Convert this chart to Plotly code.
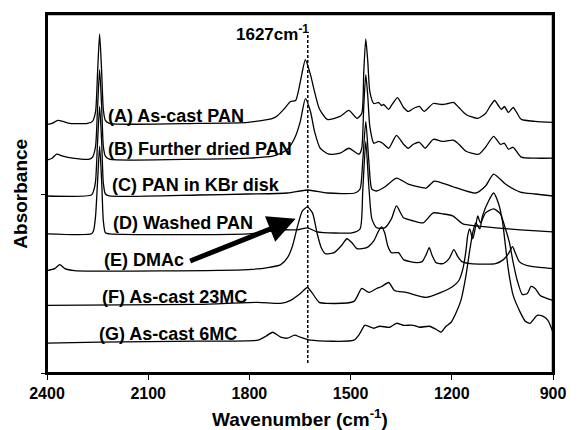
import plotly.graph_objects as go

# ---------------- data ----------------
wn_A = [2400, 2385, 2368, 2353, 2332, 2280, 2265, 2256, 2250, 2244, 2238, 2233, 2227, 2215,
        1951, 1804, 1731, 1716, 1696, 1678, 1663, 1649, 1634, 1619, 1607, 1593, 1569, 1531,
        1505, 1481, 1467, 1461, 1455, 1449, 1443, 1431, 1417, 1408, 1402, 1387, 1379, 1361,
        1343, 1329, 1314, 1296, 1282, 1255, 1229, 1211, 1194, 1179, 1158, 1123, 1100, 1085,
        1073, 1062, 1053, 1044, 1032, 1018, 1006, 994, 953, 900]
ab_A = [2.50, 2.51, 2.54, 2.53, 2.51, 2.51, 2.53, 2.63, 3.03, 3.41, 3.03, 2.65, 2.54, 2.51,
        2.51, 2.52, 2.56, 2.59, 2.66, 2.73, 2.74, 2.93, 3.15, 3.00, 2.83, 2.66, 2.55, 2.58,
        2.64, 2.56, 2.61, 3.03, 3.36, 3.13, 2.83, 2.71, 2.72, 2.69, 2.70, 2.65, 2.69, 2.77,
        2.67, 2.63, 2.66, 2.68, 2.63, 2.71, 2.70, 2.71, 2.72, 2.67, 2.60, 2.56, 2.61, 2.69,
        2.74, 2.69, 2.65, 2.68, 2.62, 2.67, 2.61, 2.55, 2.53, 2.52]

wn_B = [2400, 2385, 2371, 2353, 2324, 2274, 2265, 2256, 2250, 2244, 2238, 2233, 2227, 2215,
        1951, 1804, 1731, 1707, 1687, 1666, 1649, 1634, 1619, 1607, 1590, 1564, 1531, 1505,
        1475, 1467, 1461, 1455, 1449, 1443, 1431, 1417, 1405, 1387, 1364, 1343, 1329, 1314,
        1296, 1279, 1255, 1229, 1194, 1179, 1158, 1120, 1100, 1076, 1056, 1044, 1032, 1018,
        994, 953, 900]
ab_B = [2.14, 2.16, 2.20, 2.18, 2.16, 2.15, 2.17, 2.28, 2.68, 3.05, 2.68, 2.28, 2.18, 2.15,
        2.15, 2.16, 2.18, 2.21, 2.25, 2.36, 2.53, 2.76, 2.63, 2.43, 2.26, 2.20, 2.21, 2.26,
        2.20, 2.26, 2.68, 3.00, 2.78, 2.48, 2.31, 2.33, 2.31, 2.26, 2.39, 2.30, 2.26, 2.30,
        2.32, 2.26, 2.35, 2.33, 2.34, 2.30, 2.23, 2.20, 2.27, 2.38, 2.30, 2.31, 2.25, 2.27,
        2.17, 2.16, 2.16]

wn_C = [2400, 2268, 2262, 2256, 2250, 2244, 2238, 2233, 2227, 2215, 1951, 1804, 1687, 1628,
        1569, 1487, 1472, 1464, 1455, 1446, 1437, 1423, 1399, 1364, 1329, 1276, 1252, 1202,
        1129, 1100, 1076, 1041, 997, 953, 900]
ab_C = [1.78, 1.79, 1.83, 1.93, 2.33, 2.68, 2.33, 1.91, 1.80, 1.78, 1.79, 1.80, 1.81, 1.84,
        1.81, 1.81, 1.85, 2.13, 2.53, 2.13, 1.85, 1.83, 1.87, 1.96, 1.90, 1.86, 1.93, 1.88,
        1.81, 1.88, 2.00, 1.90, 1.82, 1.80, 1.78]

wn_D = [2400, 2268, 2262, 2256, 2250, 2244, 2238, 2233, 2227, 2215, 1804, 1701, 1657, 1628,
        1599, 1496, 1472, 1464, 1455, 1446, 1437, 1423, 1399, 1379, 1364, 1343, 1314, 1285,
        1255, 1226, 1197, 1167, 1129, 1070, 997, 900]
ab_D = [1.40, 1.40, 1.43, 1.58, 1.93, 2.28, 1.93, 1.53, 1.41, 1.40, 1.40, 1.44, 1.44, 1.46,
        1.42, 1.41, 1.45, 1.83, 2.33, 1.88, 1.55, 1.46, 1.46, 1.55, 1.68, 1.56, 1.53, 1.51,
        1.61, 1.60, 1.58, 1.50, 1.48, 1.46, 1.44, 1.42]

wn_E = [2400, 2377, 2362, 2347, 2318, 1804, 1745, 1707, 1687, 1672, 1657, 1643, 1628, 1613,
        1599, 1587, 1575, 1549, 1525, 1511, 1496, 1481, 1452, 1431, 1417, 1408, 1399, 1390,
        1379, 1358, 1343, 1305, 1288, 1276, 1267, 1258, 1247, 1226, 1208, 1194, 1182, 1170,
        1144, 1070, 1047, 1032, 1020, 1012, 1000, 976, 900]
ab_E = [1.03, 1.05, 1.09, 1.05, 1.03, 1.04, 1.06, 1.09, 1.16, 1.28, 1.48, 1.63, 1.67, 1.61,
        1.40, 1.26, 1.20, 1.21, 1.29, 1.35, 1.31, 1.25, 1.26, 1.33, 1.43, 1.47, 1.41, 1.28,
        1.21, 1.21, 1.14, 1.11, 1.12, 1.19, 1.26, 1.18, 1.11, 1.10, 1.15, 1.24, 1.17, 1.12,
        1.10, 1.10, 1.14, 1.20, 1.27, 1.21, 1.12, 1.08, 1.05]

wn_F = [2400, 1951, 1775, 1707, 1678, 1649, 1628, 1613, 1593, 1569, 1490, 1467, 1446, 1423,
        1408, 1387, 1370, 1335, 1276, 1232, 1197, 1179, 1167, 1158, 1153, 1147, 1138, 1129,
        1123, 1115, 1100, 1076, 1056, 1041, 1029, 1018, 1006, 991, 976, 965, 953, 938, 900]
ab_F = [0.68, 0.69, 0.71, 0.70, 0.73, 0.80, 0.86, 0.80, 0.71, 0.70, 0.72, 0.85, 0.81, 0.85,
        0.87, 0.91, 0.83, 0.81, 0.76, 0.81, 0.87, 0.93, 1.05, 1.23, 1.38, 1.45, 1.35, 1.48,
        1.58, 1.51, 1.61, 1.65, 1.60, 1.45, 1.31, 1.11, 0.93, 0.79, 0.80, 0.87, 0.85, 0.78, 0.73]

wn_G = [2400, 2244, 1951, 1775, 1751, 1731, 1707, 1687, 1666, 1649, 1619, 1490, 1472, 1458,
        1431, 1414, 1384, 1364, 1343, 1314, 1296, 1267, 1247, 1232, 1217, 1202, 1188, 1173,
        1158, 1147, 1138, 1129, 1117, 1109, 1091, 1076, 1062, 1050, 1041, 1032, 1018, 997,
        982, 968, 947, 929, 915, 900]
ab_G = [0.30, 0.31, 0.32, 0.33, 0.37, 0.41, 0.36, 0.35, 0.38, 0.36, 0.33, 0.33, 0.40, 0.48,
        0.45, 0.47, 0.46, 0.50, 0.48, 0.48, 0.46, 0.47, 0.44, 0.41, 0.47, 0.51, 0.60, 0.73,
        0.98, 1.23, 1.41, 1.51, 1.45, 1.58, 1.73, 1.81, 1.71, 1.53, 1.28, 1.03, 0.78, 0.61,
        0.52, 0.50, 0.58, 0.57, 0.53, 0.41]

labels = ["(A) As-cast PAN", "(B) Further dried PAN", "(C) PAN in KBr disk",
          "(D) Washed PAN", "(E) DMAc", "(F) As-cast 23MC", "(G) As-cast 6MC"]
x_ticks = [2400, 2100, 1800, 1500, 1200, 900]
marker_wn = 1627

series = [(wn_A, ab_A), (wn_B, ab_B), (wn_C, ab_C), (wn_D, ab_D),
          (wn_E, ab_E), (wn_F, ab_F), (wn_G, ab_G)]

X_RANGE = [2400, 900]
Y_RANGE = [0, 3.61]

# ---------------- figure ----------------
FONT = "Liberation Sans, Arial, Helvetica, sans-serif"
fig = go.Figure()
for (wn, ab), name in zip(series, labels):
    fig.add_trace(go.Scatter(x=wn, y=ab, mode="lines", name=name,
                             line=dict(color="black", width=1.3, shape="spline", smoothing=0.6),
                             hoverinfo="skip"))

# label positions (paper coords)
label_pos = [(0.117, 0.717), (0.117, 0.623), (0.125, 0.524), (0.127, 0.418),
             (0.108, 0.316), (0.104, 0.211), (0.098, 0.108)]
annotations = []
for (px, py), t in zip(label_pos, labels):
    annotations.append(dict(xref="paper", yref="paper", x=px, y=py, text="<b>%s</b>" % t,
                            showarrow=False, xanchor="left", yanchor="middle",
                            font=dict(family=FONT, size=18, color="black")))

annotations.append(dict(xref="x", yref="paper", x=marker_wn, y=0.947, xanchor="right", yanchor="middle",
                        xshift=3, text="<b>%dcm<sup>-1</sup></b>" % marker_wn, showarrow=False,
                        font=dict(family=FONT, size=17, color="black")))
# arrow from DMAc label to the 1627 band
annotations.append(dict(xref="x", yref="y", x=1663, y=1.55, axref="x", ayref="y", ax=1980, ay=1.12,
                        text="", showarrow=True, arrowhead=2, arrowsize=1.1, arrowwidth=5,
                        arrowcolor="black"))
# axis titles
annotations.append(dict(xref="paper", yref="paper", x=-0.053, y=0.5, textangle=-90,
                        text="<b>Absorbance</b>", showarrow=False, xanchor="center", yanchor="middle",
                        font=dict(family=FONT, size=19, color="black")))
annotations.append(dict(xref="paper", yref="paper", x=0.5, y=-0.125,
                        text="<b>Wavenumber (cm<sup>-1</sup>)</b>", showarrow=False,
                        xanchor="center", yanchor="middle",
                        font=dict(family=FONT, size=19, color="black")))

frame = dict(color="black", width=2)
fig.update_layout(
    width=578, height=430, margin=dict(l=47, r=20, t=12, b=57),
    paper_bgcolor="white", plot_bgcolor="white", showlegend=False,
    annotations=annotations,
    shapes=[dict(type="rect", xref="paper", yref="paper", x0=0, x1=1, y0=0, y1=1, line=frame),
            # top and right frame edges in axis coordinates (fallback)
            dict(type="line", xref="x", yref="y", x0=X_RANGE[0], x1=X_RANGE[1],
                 y0=Y_RANGE[1], y1=Y_RANGE[1], line=dict(color="black", width=2.5)),
            dict(type="line", xref="x", yref="y", x0=X_RANGE[1], x1=X_RANGE[1],
                 y0=Y_RANGE[0], y1=Y_RANGE[1], line=dict(color="black", width=2.5)),
            dict(type="line", xref="x", yref="y", x0=marker_wn, x1=marker_wn, y0=0.10, y1=3.43,
                 line=dict(color="black", width=1.5, dash="3px,2px"))],
    xaxis=dict(range=X_RANGE, tickmode="array", tickvals=x_ticks,
               ticktext=["<b>%d</b>" % v for v in x_ticks],
               tickfont=dict(family=FONT, size=16, color="black"),
               showline=True, linecolor="black", linewidth=2, mirror=True,
               ticks="outside", ticklen=5, tickwidth=1.2, tickcolor="black",
               showgrid=False, zeroline=False),
    yaxis=dict(range=Y_RANGE, tickmode="array", tickvals=[0, 1.8],
               showticklabels=False, showline=True, linecolor="black", linewidth=2, mirror=True,
               ticks="outside", ticklen=4, tickcolor="black", showgrid=False, zeroline=False),
)

fig.write_html("out.html", config={"displayModeBar": False},
               post_script="document.body.style.margin='0';")
